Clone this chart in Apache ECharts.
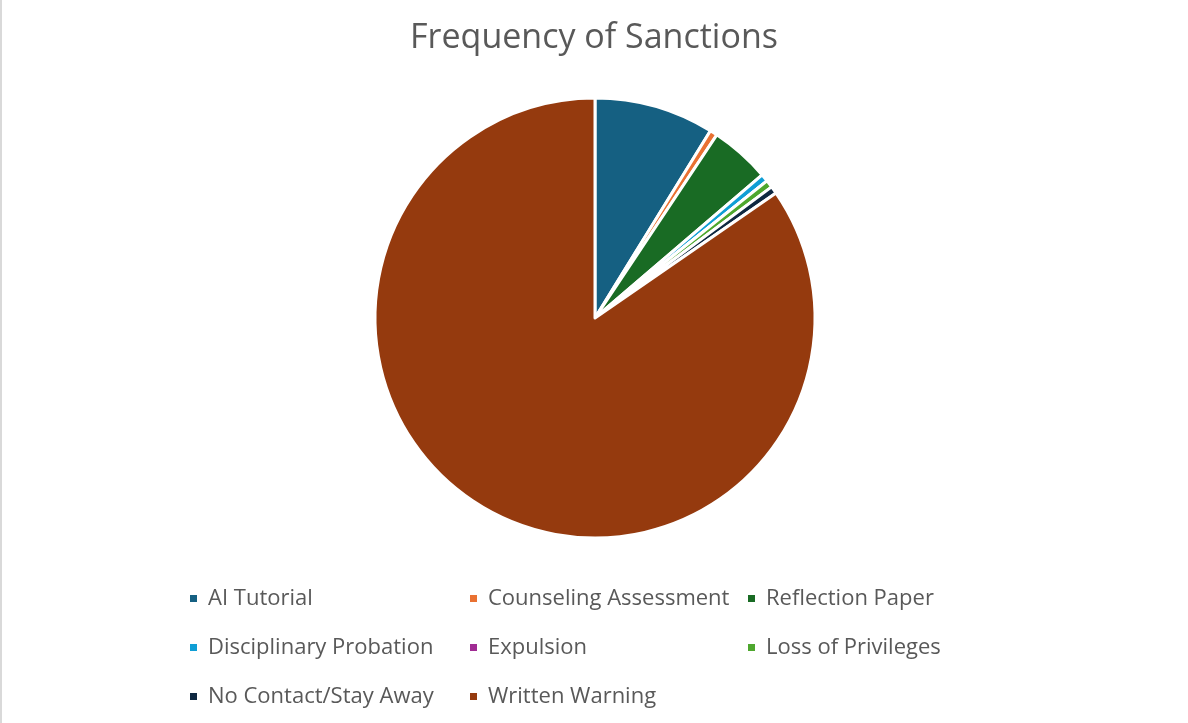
<!DOCTYPE html>
<html>
<head>
<meta charset="utf-8">
<script src="https://cdn.jsdelivr.net/npm/echarts@6/dist/echarts.min.js"></script>
<style>html,body{margin:0;padding:0;background:#fff;}#c{width:1188px;height:723px;}</style>
</head>
<body>
<div id="c"></div>
<script>
const categories = ['AI Tutorial','Counseling Assessment','Reflection Paper','Disciplinary Probation','Expulsion','Loss of Privileges','No Contact/Stay Away','Written Warning'];
const values = [16, 1, 8, 1, 0, 1, 1, 154];
const colors = ['#156082','#E97132','#196B24','#0F9ED5','#A02B93','#4EA72E','#0E2841','#953A0E'];
const legendCols = [
  ['AI Tutorial','Disciplinary Probation','No Contact/Stay Away'],
  ['Counseling Assessment','Expulsion','Written Warning'],
  ['Reflection Paper','Loss of Privileges']
];
const legendX = [188, 468, 746];
const font = 'Open Sans';
const chart = echarts.init(document.getElementById('c'));
chart.setOption({
  animation: false,
  color: colors,
  title: {
    text: 'Frequency of Sanctions', left: 'center', top: 16,
    textStyle: {fontFamily: font, fontSize: 34, fontWeight: 'normal', color: '#595959'}
  },
  legend: legendCols.map((col, i) => ({
    data: col, orient: 'vertical', left: legendX[i], top: 585, padding: 0,
    itemWidth: 9, itemHeight: 9, itemGap: 22, icon: 'rect',
    textStyle: {fontFamily: font, fontSize: 22, color: '#595959', padding: [0,0,0,5], lineHeight: 27},
    selectedMode: false
  })),
  graphic: [{type: 'rect', left: 0, top: 0, shape: {width: 2, height: 723}, style: {fill: '#d9d9d9'}}],
  series: [{
    type: 'pie', center: [595, 318], radius: 220, startAngle: 90, clockwise: true,
    label: {show: false}, labelLine: {show: false},
    itemStyle: {borderColor: '#fff', borderWidth: 3},
    emphasis: {disabled: true},
    data: categories.map((c, i) => ({name: c, value: values[i]}))
  }]
});
</script>
</body>
</html>
